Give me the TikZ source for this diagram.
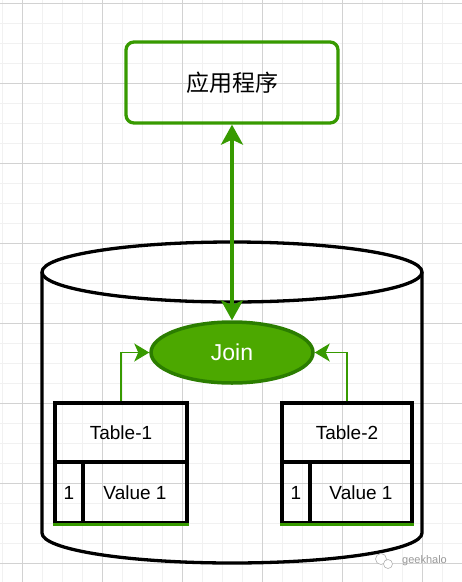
\documentclass[tikz,border=0pt]{standalone}
\usepackage{fontspec}
\setmainfont{Liberation Sans}
\newfontfamily\cjk{Noto Sans CJK SC}
\usetikzlibrary{arrows.meta,shapes.geometric}
\definecolor{gline}{HTML}{379A00}
\definecolor{jfill}{HTML}{4CA800}
\definecolor{jdraw}{HTML}{2B7D00}
\definecolor{minorg}{HTML}{F1F1F1}
\definecolor{majorg}{HTML}{D2D2D2}
\tikzset{
  appbox/.style={draw=gline,line width=3.3pt,rounded corners=8pt,minimum width=212pt,minimum height=81pt,inner sep=0pt,font=\cjk\fontsize{23}{26}\selectfont},
  joinnode/.style={ellipse,draw=jdraw,fill=jfill,line width=3.5pt,minimum width=162pt,minimum height=61pt,inner sep=0pt,text=white,font=\fontsize{23}{26}\selectfont},
  tcell/.style={draw=black,line width=3.3pt,inner sep=0pt,font=\fontsize{19}{22}\selectfont},
  bigarrow/.style={draw=gline,line width=3.3pt,{Stealth[length=20pt,width=22pt,inset=5pt]}-{Stealth[length=20pt,width=22pt,inset=5pt]}},
  smallarrow/.style={draw=gline,line width=1.6pt,-{Stealth[length=15pt,width=18pt,inset=4pt]}},
  greenbase/.style={draw=gline,line width=3.3pt},
  cyl/.style={draw=black,line width=3.3pt},
}
\begin{document}
\begin{tikzpicture}[x=1pt,y=-1pt]
\useasboundingbox (0,0) rectangle (462,582);
% grid
\foreach \i in {0,...,23} {\draw[minorg,line width=1pt] (2+20*\i,0) -- (2+20*\i,582);}
\foreach \i in {0,...,29} {\draw[minorg,line width=1pt] (0,3+20*\i) -- (462,3+20*\i);}
\foreach \i in {0,...,5} {\draw[majorg,line width=1pt] (22+80*\i,0) -- (22+80*\i,582);}
\foreach \i in {0,...,7} {\draw[majorg,line width=1pt] (0,3+80*\i) -- (462,3+80*\i);}
% cylinder
\draw[cyl] (232,272) ellipse [x radius=190,y radius=30];
\draw[cyl] (42,272) -- (42,533) arc[start angle=180,end angle=0,x radius=190,y radius=30] -- (422,272);
% tables
\node[tcell,minimum width=132pt,minimum height=59pt] (t1h) at (121,432.5) {Table-1};
\node[tcell,minimum width=28pt,minimum height=61pt] (t1a) at (69,492.5) {1};
\node[tcell,minimum width=104pt,minimum height=61pt] (t1b) at (135,492.5) {Value 1};
\draw[greenbase] (t1a.south west) -- (t1b.south east);
\node[tcell,minimum width=130pt,minimum height=59pt] (t2h) at (347,432.5) {Table-2};
\node[tcell,minimum width=28pt,minimum height=61pt] (t2a) at (296,492.5) {1};
\node[tcell,minimum width=102pt,minimum height=61pt] (t2b) at (361,492.5) {Value 1};
\draw[greenbase] (t2a.south west) -- (t2b.south east);
% join and app
\node[joinnode] (join) at (232,352.5) {Join};
\node[appbox] (app) at (232,82.5) {应用程序};
\draw[bigarrow] (app.south) -- (join.north);
\draw[smallarrow] (t1h.north) |- (join.west);
\draw[smallarrow] (t2h.north) |- (join.east);
% watermark
\draw[gray!60,line width=0.6pt,fill=white] (381,559) circle (5.5);
\draw[gray!60,line width=0.6pt,fill=white] (388,564) circle (4.5);
\node[text=gray!80,font=\fontsize{11}{12}\selectfont,inner sep=0pt] (wm) at (424.5,561) {geekhalo};
\end{tikzpicture}
\end{document}
